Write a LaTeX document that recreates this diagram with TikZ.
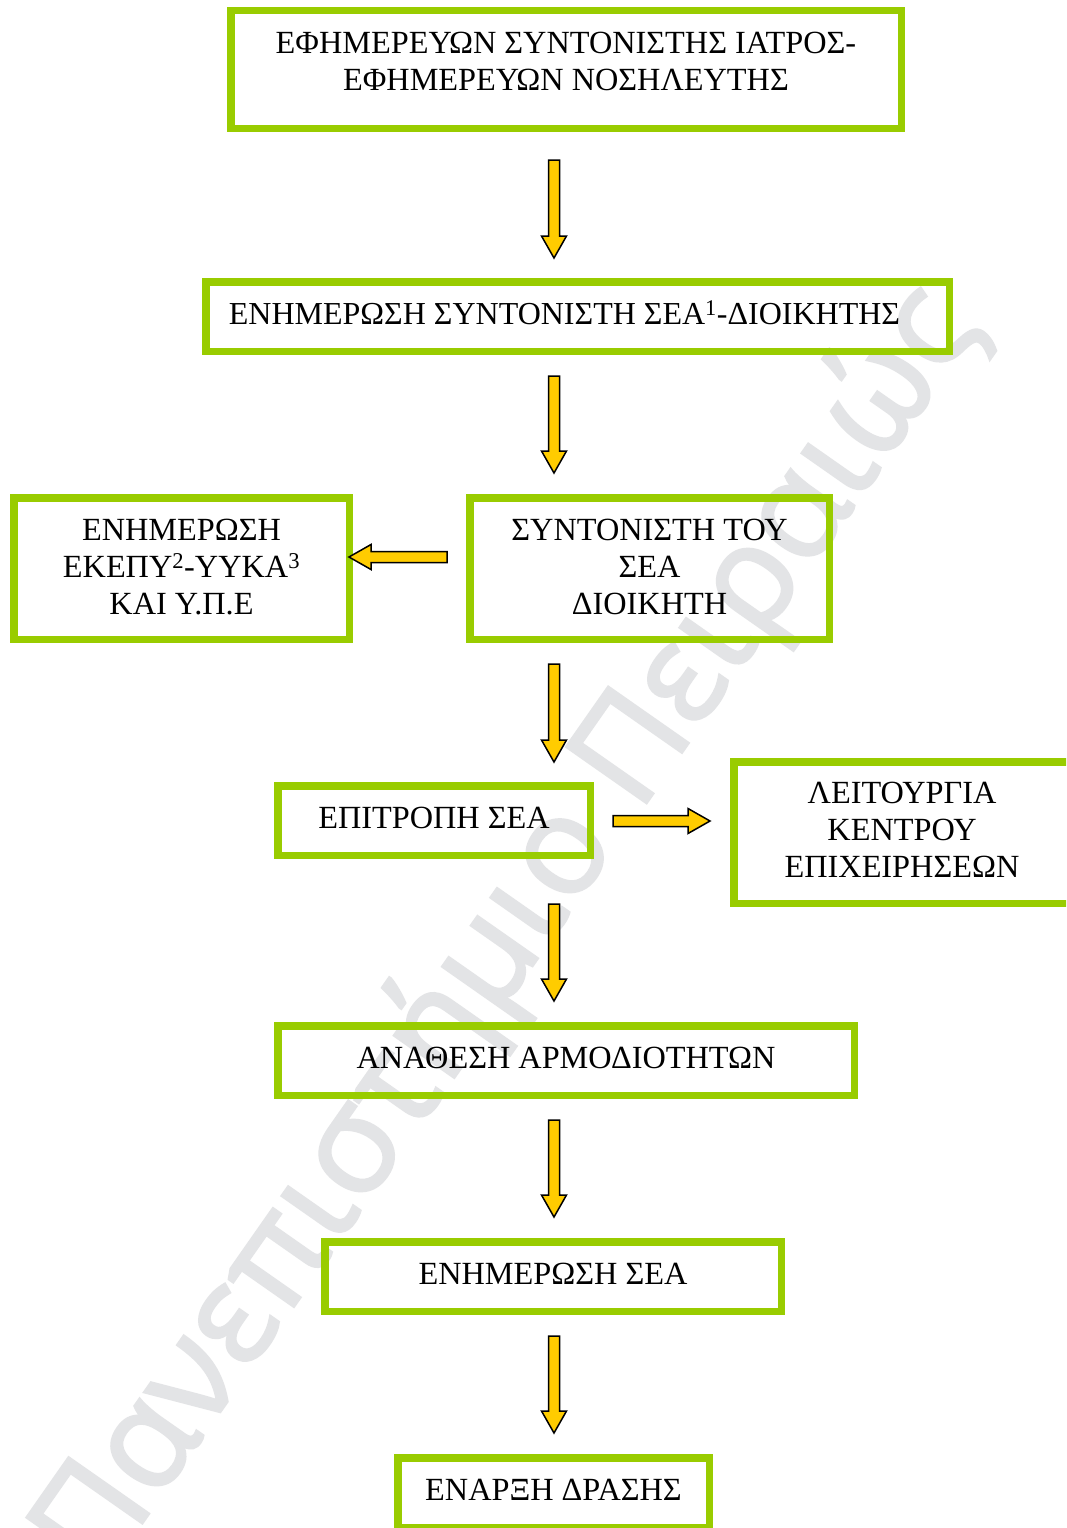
\documentclass[tikz,border=0pt]{standalone}
\usepackage{fontspec}
\setmainfont{Liberation Serif}
\newfontfamily\wmfont[FakeBold=2]{Open Sans}
\usetikzlibrary{calc}
\definecolor{boxgreen}{HTML}{99CC00}
\definecolor{arrowyellow}{HTML}{FFCC00}
\definecolor{wmgray}{RGB}{227,228,230}
\newcommand\boxlines[2]{\raisebox{0pt}[#1][0pt]{\begin{tabular}[b]{@{}c@{}}#2\end{tabular}}}
\newcommand\blockarrow[2]{%
  \pgfpointdiff{\pgfpointanchor{#1}{center}}{\pgfpointanchor{#2}{center}}%
  \pgfgetlastxy{\arrdx}{\arrdy}%
  \pgfmathsetmacro\arrlen{veclen(\arrdx,\arrdy)}%
  \pgfmathsetmacro\arrang{atan2(\arrdy,\arrdx)}%
  \draw[blockarrow, shift={(#1)}, rotate=\arrang]
    (0,-5.5) -- ({\arrlen-22},-5.5) -- ({\arrlen-22},-12.5) -- (\arrlen,0)
    -- ({\arrlen-22},12.5) -- ({\arrlen-22},5.5) -- (0,5.5) -- cycle;}
\tikzset{
  flowbox/.style={draw=boxgreen, line width=7.5pt, inner sep=0pt,
    font=\fontsize{32.3}{37}\selectfont},
  blockarrow/.style={draw=black, line width=1.5pt, fill=arrowyellow, line join=miter},
  wm/.style={text=wmgray, font=\wmfont\fontsize{137}{150}\selectfont, inner sep=0pt}
}
\begin{document}
\begin{tikzpicture}[x=1pt, y=-1pt]
\useasboundingbox (0,0) rectangle (1066,1528);
\clip (0,0) rectangle (1066,1528);
\fill[white] (0,0) rectangle (1066,1528);

% watermark
\node[wm, rotate=55, anchor=base] (wm) at (540,955) {Πανεπιστήμιο Πειραιώς};

% boxes
\node[flowbox, minimum width=670.5pt, minimum height=117.5pt] (b1) at (566,69.5)
  {\boxlines{42pt}{ΕΦΗΜΕΡΕΥΩΝ ΣΥΝΤΟΝΙΣΤΗΣ ΙΑΤΡΟΣ-\\ΕΦΗΜΕΡΕΥΩΝ ΝΟΣΗΛΕΥΤΗΣ}};
\node[flowbox, minimum width=743.5pt, minimum height=69.5pt] (b2) at (577.5,316.5)
  {\boxlines{16pt}{\fontsize{32}{37}\selectfont ΕΝΗΜΕΡΩΣΗ ΣΥΝΤΟΝΙΣΤΗ ΣΕΑ\textsuperscript{1}-ΔΙΟΙΚΗΤΗΣ}\kern26pt\relax};
\node[flowbox, minimum width=335.5pt, minimum height=141.5pt] (b3) at (181.5,568.5)
  {\boxlines{92pt}{ΕΝΗΜΕΡΩΣΗ\\ΕΚΕΠΥ\textsuperscript{2}-ΥΥΚΑ\textsuperscript{3}\\ΚΑΙ Υ.Π.Ε}};
\node[flowbox, minimum width=359.5pt, minimum height=141.5pt] (b4) at (649.5,568.5)
  {\boxlines{92pt}{ΣΥΝΤΟΝΙΣΤΗ ΤΟΥ\\ΣΕΑ\\ΔΙΟΙΚΗΤΗ}};
\node[flowbox, minimum width=312.5pt, minimum height=69.5pt] (b5) at (434,820.5)
  {\boxlines{16pt}{ΕΠΙΤΡΟΠΗ ΣΕΑ}};
\node[flowbox, minimum width=336.5pt, minimum height=141.5pt] (b6) at (902,832.5)
  {\boxlines{90pt}{ΛΕΙΤΟΥΡΓΙΑ\\ΚΕΝΤΡΟΥ\\ΕΠΙΧΕΙΡΗΣΕΩΝ}};
\node[flowbox, minimum width=576.5pt, minimum height=69.5pt] (b7) at (566,1060.5)
  {\boxlines{16pt}{ΑΝΑΘΕΣΗ ΑΡΜΟΔΙΟΤΗΤΩΝ}};
\node[flowbox, minimum width=456.5pt, minimum height=69.5pt] (b8) at (553,1276.5)
  {\boxlines{16pt}{ΕΝΗΜΕΡΩΣΗ ΣΕΑ}};
\node[flowbox, minimum width=311.5pt, minimum height=69.5pt] (b9) at (553.5,1492.5)
  {\boxlines{16pt}{ΕΝΑΡΞΗ ΔΡΑΣΗΣ}};

% arrow end points
\coordinate (a1s) at (554,160);  \coordinate (a1e) at (554,258);
\coordinate (a2s) at (554,376);  \coordinate (a2e) at (554,473);
\coordinate (a3s) at (554,664);  \coordinate (a3e) at (554,762);
\coordinate (als) at (447,557);  \coordinate (ale) at (349,557);
\coordinate (ars) at (613,821);  \coordinate (are) at (710,821);
\coordinate (a4s) at (554,904);  \coordinate (a4e) at (554,1001);
\coordinate (a5s) at (554,1120); \coordinate (a5e) at (554,1217);
\coordinate (a6s) at (554,1336); \coordinate (a6e) at (554,1433);

\blockarrow{a1s}{a1e}
\blockarrow{a2s}{a2e}
\blockarrow{a3s}{a3e}
\blockarrow{als}{ale}
\blockarrow{ars}{are}
\blockarrow{a4s}{a4e}
\blockarrow{a5s}{a5e}
\blockarrow{a6s}{a6e}
\end{tikzpicture}
\end{document}
